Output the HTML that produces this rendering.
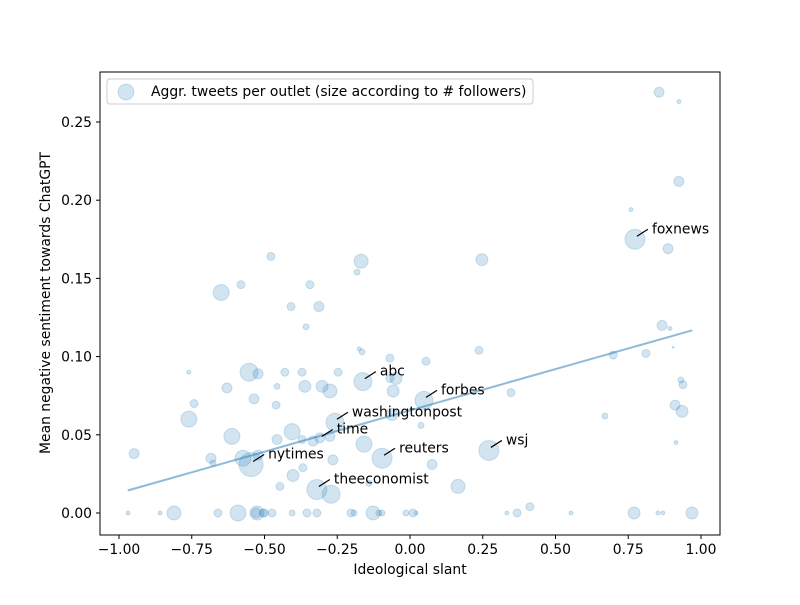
<!DOCTYPE html>
<html><head><meta charset="utf-8"><style>
body{margin:0;background:#fff}
svg{font-family:"DejaVu Sans","Liberation Sans",sans-serif}
</style></head><body>
<svg id="chart" width="800" height="600" xmlns="http://www.w3.org/2000/svg">
<rect width="800" height="600" fill="#fff"/>
<g id="points"></g>
<g id="fit"></g>
<g id="ann"></g>
<rect x="100" y="72" width="620" height="463" fill="none" stroke="#000" stroke-width="1"/>
<g id="xt"></g>
<g id="yt"></g>
<text x="410" y="574" font-size="13.9" text-anchor="middle">Ideological slant</text>
<text transform="translate(50,303) rotate(-90)" font-size="13.9" text-anchor="middle">Mean negative sentiment towards ChatGPT</text>
<g>
<rect x="107" y="79" width="426" height="25" rx="3" fill="#fff" stroke="#ccc"/>
<circle cx="126" cy="92" r="8" fill="rgba(31,119,180,0.2)" stroke="rgba(31,119,180,0.2)"/>
<text x="151" y="96" font-size="13.9">Aggr. tweets per outlet (size according to # followers)</text>
</g>
</svg>
<script>
const slant=[
-0.969,-0.948,-0.859,-0.811,-0.760,-0.742,-0.760,-0.684,-0.677,-0.660,
-0.649,-0.629,-0.612,-0.591,-0.581,-0.574,-0.553,-0.546,-0.536,-0.526,
-0.522,-0.505,-0.500,-0.478,-0.474,-0.460,-0.457,-0.457,-0.447,-0.430,
-0.409,-0.405,-0.405,-0.402,-0.371,-0.368,-0.361,-0.357,-0.354,-0.344,
-0.333,-0.320,-0.320,-0.313,-0.302,-0.275,-0.271,-0.265,-0.258,-0.247,
-0.203,-0.192,-0.182,-0.175,-0.168,-0.165,-0.162,-0.158,-0.141,-0.127,
-0.107,-0.096,-0.096,-0.069,-0.062,-0.058,-0.048,-0.014,0.010,0.021,
0.038,0.048,0.055,0.076,0.165,0.237,0.247,0.271,0.333,0.347,
0.368,0.412,0.553,0.670,0.698,0.770,0.759,0.773,0.811,0.852,
0.856,0.869,0.866,0.887,0.893,0.904,0.911,0.914,0.924,0.924,
0.931,0.935,0.938,0.969,-0.529,-0.371,-0.310,-0.275,-0.069,-0.522];
const negSent=[
0,0.038,0,0,0.090,0.070,0.060,0.035,0.032,0,
0.141,0.080,0.049,0,0.146,0.035,0.090,0.031,0.073,0,
0.089,0,0,0.164,0,0.069,0.081,0.047,0.017,0.090,
0.132,0.052,0,0.024,0.090,0.029,0.081,0.119,0,0.146,
0.046,0.015,0,0.132,0.081,0.078,0.012,0.034,0.058,0.090,
0,0,0.154,0.105,0.161,0.103,0.084,0.044,0.019,0,
0,0,0.035,0.086,0.063,0.078,0.086,0,0,0,
0.056,0.072,0.097,0.031,0.017,0.104,0.162,0.040,0,0.077,
0,0.004,0,0.062,0.101,0,0.194,0.175,0.102,0,
0.269,0,0.120,0.169,0.118,0.106,0.069,0.045,0.263,0.212,
0.085,0.065,0.082,0,0,0.047,0.048,0.049,0.099,0.037];
const followers=[
2,5,2,7,2,4,8,5,3,4,
8,5,8,8,4,8,9,12,5,7,
5,4,4,4,4,4,3,5,4,4,
4,8,3,6,4,4,6,3,4,4,
5,10,4,5,6,7,9,5,9,4,
4,3,3,2,7,3,9,8,3,7,
3,3,10,4,6,6,6,3,4,2,
3,9,4,5,7,4,6,10,2,4,
4,4,2,3,4,6,2,10,4,2,
5,2,5,5,2,1,5,2,2,5,
3,6,4,6,5,4,5,5,4,5];
const xTicks=[-1.0,-0.75,-0.5,-0.25,0.0,0.25,0.5,0.75,1.0];
const xTickLabels=["−1.00","−0.75","−0.50","−0.25","0.00","0.25","0.50","0.75","1.00"];
const yTicks=[0,0.05,0.10,0.15,0.20,0.25];
const yTickLabels=["0.00","0.05","0.10","0.15","0.20","0.25"];
const fitSlope=0.0528, fitIntercept=0.0656, fitRange=[-0.97,0.97];
const annNames=["foxnews","abc","forbes","washingtonpost","time","wsj","reuters","nytimes","theeconomist"];
const annX=[0.773,-0.162,0.048,-0.258,-0.310,0.271,-0.096,-0.546,-0.320];
const annY=[0.175,0.084,0.072,0.058,0.047,0.040,0.035,0.031,0.015];

const NS="http://www.w3.org/2000/svg";
const sx=v=>410+v*291, sy=v=>513-v*1564;
function mk(tag,attrs,parent){const e=document.createElementNS(NS,tag);for(const k in attrs)e.setAttribute(k,attrs[k]);parent.appendChild(e);return e;}
const pts=document.getElementById('points');
slant.forEach((x,i)=>{
  const c=mk('circle',{cx:sx(x),cy:sy(negSent[i]),r:followers[i],fill:'rgba(31,119,180,0.2)',stroke:'rgba(31,119,180,0.2)'},pts);
  
  
});
const fit=document.getElementById('fit');
const ln=mk('line',{x1:sx(fitRange[0]),y1:sy(fitIntercept+fitSlope*fitRange[0]),x2:sx(fitRange[1]),y2:sy(fitIntercept+fitSlope*fitRange[1]),stroke:'rgba(31,119,180,0.5)','stroke-width':2},fit);


const ann=document.getElementById('ann');
annNames.forEach((n,i)=>{
  const px=sx(annX[i]),py=sy(annY[i]);
  const l=mk('line',{x1:px+2,y1:py-3,x2:px+13,y2:py-10,stroke:'#000','stroke-width':1.2},ann);
  
  
  const t=mk('text',{x:px+17,y:py-6,'font-size':13.9},ann);
  t.textContent=n;
  
  
});
const xt=document.getElementById('xt');
xTicks.forEach((v,i)=>{
  const l=mk('line',{x1:sx(v),x2:sx(v),y1:535,y2:539,stroke:'#000'},xt);
  
  
  const t=mk('text',{x:sx(v),y:554,'font-size':13.9,'text-anchor':'middle'},xt);
  t.textContent=xTickLabels[i];
  
  
});
const yt=document.getElementById('yt');
yTicks.forEach((v,i)=>{
  const l=mk('line',{x1:96,x2:100,y1:sy(v),y2:sy(v),stroke:'#000'},yt);
  
  
  const t=mk('text',{x:92,y:sy(v)+5,'font-size':13.9,'text-anchor':'end'},yt);
  t.textContent=yTickLabels[i];
  
  
});
</script>
</body></html>
